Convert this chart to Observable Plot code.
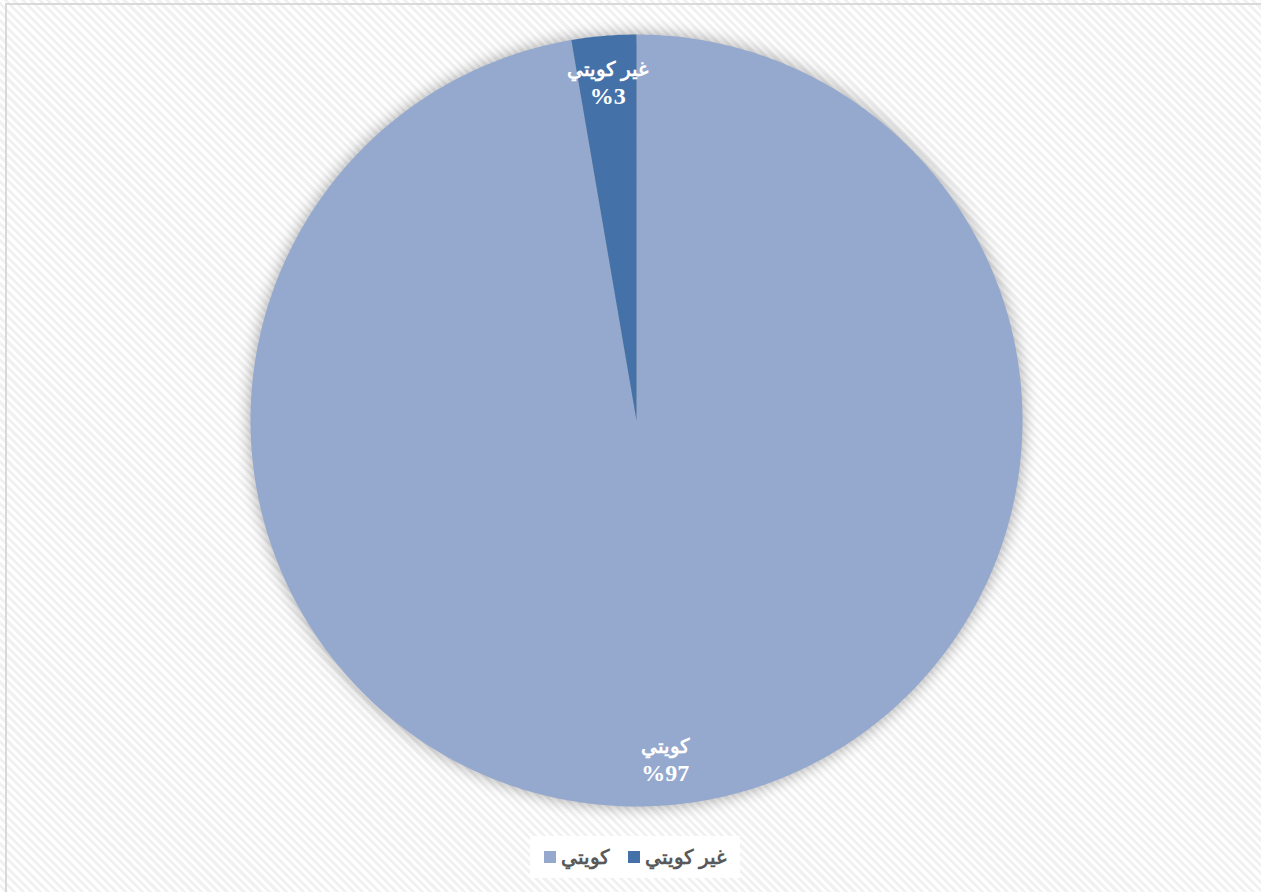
<!DOCTYPE html>
<html lang="ar">
<head>
<meta charset="utf-8">
<script src="https://cdn.jsdelivr.net/npm/d3@7"></script>
<script src="https://cdn.jsdelivr.net/npm/@observablehq/plot@0.6"></script>
<style>
  html, body { margin: 0; padding: 0; background: #fff; }
  #wrap {
    position: relative; width: 1261px; height: 892px; overflow: hidden;
    background: repeating-linear-gradient(45deg, #ffffff 0px, #ffffff 3px, #f1f1f1 3px, #f1f1f1 6px);
  }
  #frame {
    position: absolute; left: 5px; top: 3px; width: 1270px; height: 900px;
    border: 2px solid #d9d9d9; box-sizing: border-box;
  }
  #chart { position: absolute; left: 0; top: 0; }
  #chart svg { background: transparent; }
  #chart g[aria-label="line"] { filter: drop-shadow(0 0 8px rgba(0,0,0,0.35)); }
  #legend {
    position: absolute; left: 530px; top: 836px; width: 210px; height: 42px;
    background: #fff; display: flex; flex-direction: row-reverse; align-items: center;
    justify-content: center; gap: 18px;
    font-family: "Liberation Sans", Arial, sans-serif; font-weight: bold; font-size: 20px; color: #595959;
  }
  .item { display: flex; flex-direction: row-reverse; align-items: center; gap: 5px; }
  .sw { width: 12px; height: 12px; display: inline-block; }
</style>
</head>
<body>
<div id="wrap">
  <div id="frame"></div>
  <div id="chart"></div>
  <div id="legend"></div>
</div>
<script>
const categories = ["كويتي", "غير كويتي"];
const values = [97.3, 2.7];
const valueLabels = ["%97", "%3"];
const colors = ["#95A9CF", "#4472A8"];

// Build slice polygons (start at 12 o'clock, clockwise)
const total = d3.sum(values);
const polyRows = [];
const labelRows = [];
let acc = 0;
categories.forEach((cat, i) => {
  const a0 = acc / total * 2 * Math.PI;
  acc += values[i];
  const a1 = acc / total * 2 * Math.PI;
  const n = Math.max(4, Math.ceil((a1 - a0) / (Math.PI / 360)));
  polyRows.push({cat, x: 0, y: 0});
  for (let k = 0; k <= n; k++) {
    const a = a0 + (a1 - a0) * k / n;
    polyRows.push({cat, x: Math.sin(a), y: Math.cos(a)});
  }
  polyRows.push({cat, x: 0, y: 0});
  const am = (a0 + a1) / 2;
  labelRows.push({cat, x: 0.88 * Math.sin(am), y: 0.88 * Math.cos(am), name: cat, pct: valueLabels[i]});
});

const plot = Plot.plot({
  width: 1261,
  height: 830,
  marginLeft: 250,
  marginRight: 239,
  marginTop: 34,
  marginBottom: 24,
  x: {domain: [-1, 1], axis: null},
  y: {domain: [-1, 1], axis: null},
  color: {domain: categories, range: colors},
  style: {background: "transparent"},
  marks: [
    Plot.line(polyRows, {x: "x", y: "y", z: "cat", fill: "cat", stroke: "none", curve: "linear"}),
    Plot.text(labelRows, {
      x: "x", y: "y", text: "name", fill: "white", dy: -12,
      fontSize: 20, fontWeight: "bold", fontFamily: "'Liberation Serif', 'Times New Roman', serif"
    }),
    Plot.text(labelRows, {
      x: "x", y: "y", text: "pct", fill: "white", dy: 14,
      fontSize: 24, fontWeight: "bold", fontFamily: "'Liberation Serif', 'Times New Roman', serif"
    })
  ]
});
document.getElementById("chart").appendChild(plot);

const legend = document.getElementById("legend");
categories.slice().reverse().forEach((cat) => {
  const i = categories.indexOf(cat);
  const it = document.createElement("div");
  it.className = "item";
  const sw = document.createElement("span");
  sw.className = "sw";
  sw.style.background = colors[i];
  const tx = document.createElement("span");
  tx.textContent = cat;
  it.appendChild(tx);
  it.appendChild(sw);
  legend.appendChild(it);
});
</script>
</body>
</html>
